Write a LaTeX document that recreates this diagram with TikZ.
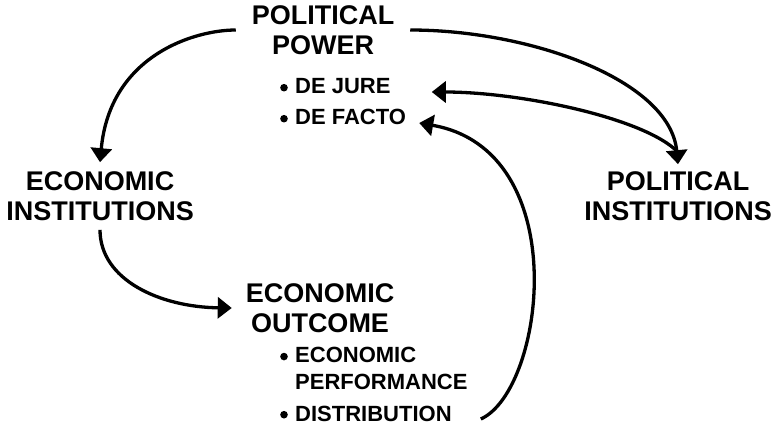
\documentclass[tikz,border=0pt]{standalone}
\usepackage{fontspec}
\setmainfont{Liberation Sans}
\usepackage{tikz}
\usetikzlibrary{arrows.meta,positioning}
\tikzset{
  blocktext/.style = {align=center, inner sep=0pt, text=black, font=\bfseries\fontsize{27}{30.5}\selectfont},
  bullettext/.style = {align=left, inner sep=0pt, text=black, font=\bfseries\fontsize{22}{27}\selectfont}
}
\newcommand{\itemdot}{\tikz[baseline=0pt]\fill[black] (3.8pt,6.3pt) circle[radius=3.8pt];\hspace{7.4pt}}
\newcommand{\itemgap}{\hspace{15pt}}

\begin{document}
\begin{tikzpicture}[x=1pt,y=-1pt,->,>={Triangle[length=14pt,width=21pt]},
        link/.style={line width=3.3pt, black}]
    \useasboundingbox (0,0) rectangle (774,425);
    % main blocks
    \node [blocktext, outer sep=16pt] (pp) at (323,30) {POLITICAL\\POWER};
    \node [blocktext, outer sep=9pt] (ei) at (100,196) {ECONOMIC\\INSTITUTIONS};
    \node [blocktext, outer sep=7pt] (pi) at (678,196) {POLITICAL\\INSTITUTIONS};
    \node [blocktext, outer sep=14pt] (eo) at (320,308) {ECONOMIC\\OUTCOME};
    % bullet lists
    \node [bullettext, anchor=base west] (dj) at (280,94) {\itemdot DE JURE};
    \node [bullettext, below=31pt of dj.base west, anchor=base west] (df) {\itemdot DE FACTO};
    \node [bullettext, anchor=north west] (ep) at (280,347.3) {\itemdot ECONOMIC\\\itemgap PERFORMANCE};
    \node [bullettext, anchor=base west] (dist) at (280,421) {\itemdot DISTRIBUTION};
    % links
    \draw [link] (pp.west) .. controls (195,30) and (110,55) .. (ei.north);
    \draw [link] (pp.east) .. controls (530,30) and (670,80) .. (pi.north);
    \draw [link, <-] ([xshift=41pt,yshift=2pt]dj.base east) .. controls (520,92) and (645,118) .. ([yshift=12pt]pi.north);
    \draw [link] (ei.south) .. controls (100,280) and (160,307) .. (eo.west);
    \draw [link] ([xshift=29pt,yshift=2pt]dist.base east) .. controls (545,390) and (575,150) .. ([xshift=13pt,yshift=2pt]df.base east);
\end{tikzpicture}
\end{document}
